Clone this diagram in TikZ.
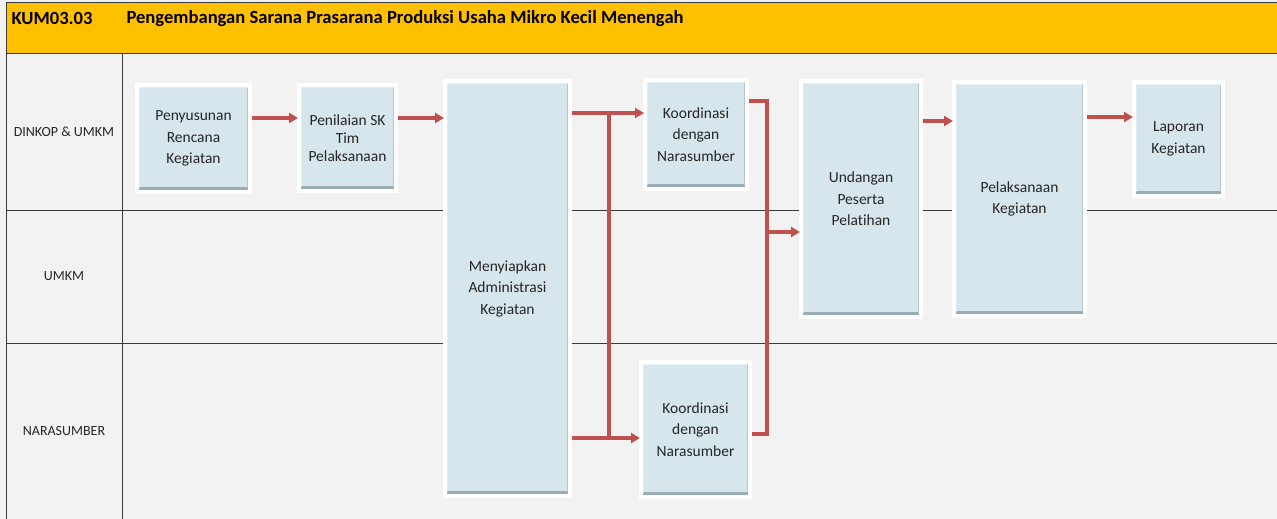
\documentclass[tikz,border=0pt]{standalone}
\usepackage{fontspec}
\setmainfont{Carlito}[RawFeature=-liga]
\usetikzlibrary{shadows,arrows.meta}

\definecolor{pagebg}{HTML}{F2F2F2}
\definecolor{titlebar}{HTML}{FFC000}
\definecolor{boxblue}{HTML}{D6E6EC}
\definecolor{bevellight}{HTML}{E4F2F6}
\definecolor{beveldark}{HTML}{98AEB6}
\definecolor{flowred}{HTML}{C0504D}
\definecolor{gridline}{HTML}{3A3A3A}

\tikzset{
  grid/.style={draw=gridline, line width=1pt},
  lanelabel/.style={font=\fontsize{14}{16}\selectfont, text=black!85},
  proc/.style={
    rectangle, fill=boxblue, draw=white, line width=4pt,
    drop shadow={shadow xshift=1.2pt, shadow yshift=-1.8pt, opacity=0.35},
    align=center, text=black!85,
    font=\fontsize{15.5}{21.5}\selectfont,
    inner sep=0pt,
    path picture={
      \fill[bevellight] (path picture bounding box.north west) --
        (path picture bounding box.north east) --
        ([xshift=-3pt,yshift=-3pt]path picture bounding box.north east) --
        ([xshift=3pt,yshift=-3pt]path picture bounding box.north west) -- cycle;
      \fill[bevellight!60!boxblue] (path picture bounding box.north west) --
        ([xshift=3pt,yshift=-3pt]path picture bounding box.north west) --
        ([xshift=3pt,yshift=5pt]path picture bounding box.south west) --
        (path picture bounding box.south west) -- cycle;
      \fill[beveldark!55!boxblue] (path picture bounding box.north east) --
        ([xshift=-3pt,yshift=-3pt]path picture bounding box.north east) --
        ([xshift=-3pt,yshift=5pt]path picture bounding box.south east) --
        (path picture bounding box.south east) -- cycle;
      \fill[beveldark] (path picture bounding box.south west) --
        ([xshift=3pt,yshift=5pt]path picture bounding box.south west) --
        ([xshift=-3pt,yshift=5pt]path picture bounding box.south east) --
        (path picture bounding box.south east) -- cycle;
    }
  },
  flow/.style={draw=flowred, line width=3.6pt},
  arr/.style={flow, -{Triangle[length=9pt,width=10pt]}, shorten >=-1pt},
  heading/.style={anchor=west, font=\bfseries\fontsize{18.6}{21}\selectfont, text=black}
}

\begin{document}
\begin{tikzpicture}[x=1pt,y=-1pt]
  % page and frame
  \fill[pagebg] (0,0) rectangle (1277,519);
  \useasboundingbox (0,0) rectangle (1277,519);
  \fill[titlebar] (6,3) rectangle (1277,54);
  \draw[grid] (6,3) -- (1277,3);
  \draw[grid] (6,54) -- (1277,54);
  \draw[grid] (6,3) -- (6,519);
  \draw[grid] (122,54) -- (122,519);
  \draw[grid] (6,210) -- (1277,210);
  \draw[grid] (6,343) -- (1277,343);

  % heading
  \node[heading] (code) at (8,18.5) {KUM03.03};
  \node[heading] (title) at (123,18.5)
    {Pengembangan Sarana Prasarana Produksi Usaha Mikro Kecil Menengah};

  % lanes
  \node[lanelabel] (lane1) at (64,132) {DINKOP \& UMKM};
  \node[lanelabel] (lane2) at (64,276) {UMKM};
  \node[lanelabel] (lane3) at (64,431) {NARASUMBER};

  % process steps
  \node[proc, minimum width=113pt, minimum height=107pt] (b1) at (193.5,138.5)
    {Penyusunan\\Rencana\\Kegiatan};
  \node[proc, minimum width=97pt, minimum height=106pt,
        font=\fontsize{15.5}{18}\selectfont] (b2) at (347.5,138)
    {Penilaian SK\\Tim\\Pelaksanaan};
  \node[proc, minimum width=125pt, minimum height=415pt] (b3) at (507.5,288.5)
    {Menyiapkan\\Administrasi\\Kegiatan};
  \node[proc, minimum width=102pt, minimum height=109pt] (b4) at (696,134.5)
    {Koordinasi\\dengan\\Narasumber};
  \node[proc, minimum width=109pt, minimum height=135pt] (b5) at (695.5,429.5)
    {Koordinasi\\dengan\\Narasumber};
  \node[proc, minimum width=120pt, minimum height=236pt] (b6) at (861,199)
    {Undangan\\Peserta\\Pelatihan};
  \node[proc, minimum width=131pt, minimum height=234pt] (b7) at (1019.5,199)
    {Pelaksanaan\\Kegiatan};
  \node[proc, minimum width=89pt, minimum height=114pt] (b8) at (1178.5,139)
    {Laporan\\Kegiatan};

  % connector rows and junction columns
  \coordinate (ra) at (0,118);
  \coordinate (rb) at (0,113);
  \coordinate (rc) at (0,438);
  \coordinate (rd) at (0,101);
  \coordinate (re) at (0,434);
  \coordinate (rf) at (0,232);
  \coordinate (rg) at (0,121);
  \coordinate (rh) at (0,117);
  \coordinate (split) at (609,0);
  \coordinate (merge) at (767,0);

  % connectors
  \draw[arr] (b1.east |- ra) -- (b2.west |- ra);
  \draw[arr] (b2.east |- ra) -- (b3.west |- ra);
  \draw[flow] (split |- rb) -- (split |- rc);
  \draw[arr] (b3.east |- rb) -- (b4.west |- rb);
  \draw[arr] (b3.east |- rc) -- (b5.west |- rc);
  \draw[flow] (b4.east |- rd) -- (merge |- rd) -- (merge |- re) -- (b5.east |- re);
  \draw[arr] (merge |- rf) -- (b6.west |- rf);
  \draw[arr] (b6.east |- rg) -- (b7.west |- rg);
  \draw[arr] (b7.east |- rh) -- (b8.west |- rh);
\end{tikzpicture}
\end{document}
